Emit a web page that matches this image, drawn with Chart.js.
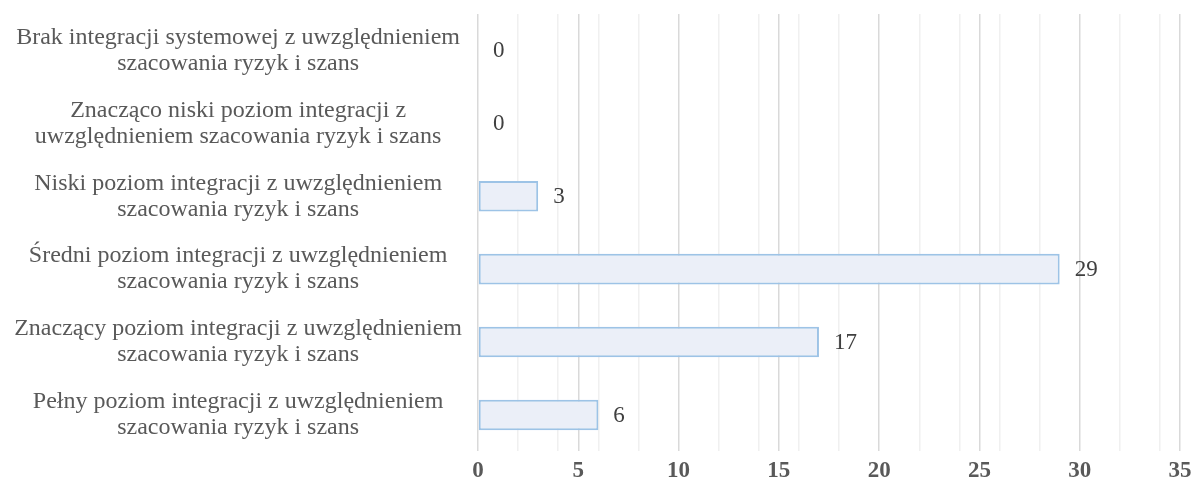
<!DOCTYPE html>
<html lang="pl">
  <head>
    <meta charset="UTF-8" />
    <title>Poziom integracji</title>
    <script src="https://cdn.jsdelivr.net/npm/chart.js@4.4.0/dist/chart.umd.min.js"></script>
    <style>
      body { margin: 0; background: #fff; }
      #wrap { width: 1194px; height: 491px; position: relative; }
    </style>
  </head>
  <body>
    <div id="wrap">
      <canvas id="integrationChart"></canvas>
    </div>

    <script>
      // categories, top to bottom
      const categories = [
        ["Brak integracji systemowej z uwzględnieniem", "szacowania ryzyk i szans"],
        ["Znacząco niski poziom integracji z", "uwzględnieniem szacowania ryzyk i szans"],
        ["Niski poziom integracji z uwzględnieniem", "szacowania ryzyk i szans"],
        ["Średni poziom integracji z uwzględnieniem", "szacowania ryzyk i szans"],
        ["Znaczący poziom integracji z uwzględnieniem", "szacowania ryzyk i szans"],
        ["Pełny poziom integracji z uwzględnieniem", "szacowania ryzyk i szans"]
      ];
      const counts = [0, 0, 3, 29, 17, 6];

      // x axis: labels every 5, light lines every 2
      const axisMax = 35;
      const majorStep = 5;
      const minorStep = 2;

      const serif = '"Liberation Serif", "Times New Roman", serif';

      // value labels to the right of each bar
      const valueLabels = {
        id: "valueLabels",
        afterDatasetsDraw(chart) {
          const ctx = chart.ctx;
          const meta = chart.getDatasetMeta(0);
          ctx.save();
          ctx.font = "23px " + serif;
          ctx.fillStyle = "#404040";
          ctx.textAlign = "left";
          ctx.textBaseline = "middle";
          meta.data.forEach((bar, i) => {
            ctx.fillText(String(counts[i]), bar.x + 15, bar.y + 1);
          });
          ctx.restore();
        }
      };

      let ctx = document.getElementById("integrationChart").getContext("2d");

      let myChart = new Chart(ctx, {
        type: "bar",
        data: {
          labels: categories,
          datasets: [
            {
              data: counts,
              backgroundColor: "#ebeff8",
              borderColor: "#9dc3e6",
              borderWidth: 2,
              borderSkipped: false,
              categoryPercentage: 1,
              barPercentage: 0.42
            }
          ]
        },
        options: {
          indexAxis: "y",
          responsive: true,
          maintainAspectRatio: false,
          animation: false,
          layout: { padding: { left: 0, right: 14, top: 14, bottom: 0 } },
          plugins: {
            legend: { display: false },
            tooltip: { enabled: false }
          },
          scales: {
            x: {
              min: 0,
              max: axisMax,
              afterBuildTicks(scale) {
                const ticks = [];
                for (let v = 0; v <= axisMax; v++) {
                  if (v % minorStep === 0 || v % majorStep === 0) ticks.push({ value: v });
                }
                scale.ticks = ticks;
              },
              afterFit(scale) {
                scale.paddingRight = 0;
              },
              ticks: {
                autoSkip: false,
                maxRotation: 0,
                padding: 6,
                color: "#595959",
                font: { family: serif, size: 23, weight: "bold" },
                callback: (v) => (v % majorStep === 0 ? v : "")
              },
              grid: {
                drawTicks: false,
                lineWidth: 1.5,
                color: (c) => (c.tick && c.tick.value % majorStep === 0 ? "#d9d9d9" : "#f0f0f0")
              },
              border: { display: false }
            },
            y: {
              afterFit(scale) {
                scale.width = 478;
                scale.paddingTop = 0;
                scale.paddingBottom = 0;
              },
              ticks: {
                crossAlign: "center",
                padding: 16,
                color: "#595959",
                font: { family: serif, size: 24, lineHeight: 1.08 }
              },
              grid: { display: false, drawTicks: false },
              border: { display: false }
            }
          }
        },
        plugins: [valueLabels]
      });
    </script>
  </body>
</html>
